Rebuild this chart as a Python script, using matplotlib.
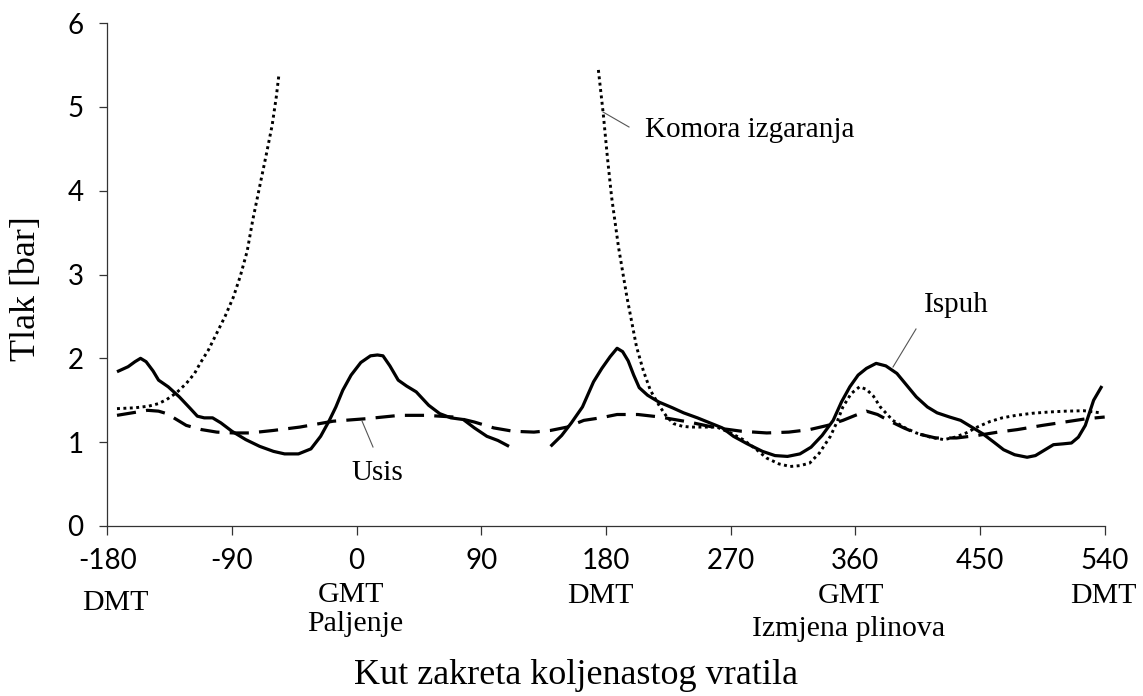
import matplotlib
matplotlib.use("Agg")
import matplotlib.pyplot as plt

W, H = 1143, 696

# ---------- data ----------
# Ispuh (solid), two pieces
ispuh1_x = [-173, -165, -160, -156, -152, -147, -143, -136, -128, -120, -115, -110, -104, -98,
            -90, -80, -70, -60, -52, -42, -33, -26, -20, -15, -10, -4, 3, 10, 15, 19, 24,
            30, 36, 43, 52, 60, 68, 77, 85, 94, 102, 110]
ispuh1_y = [1.84, 1.90, 1.96, 2.00, 1.96, 1.85, 1.74, 1.66, 1.54, 1.40, 1.31, 1.29, 1.29, 1.23,
            1.13, 1.03, 0.95, 0.89, 0.86, 0.86, 0.92, 1.07, 1.25, 1.42, 1.62, 1.80, 1.95, 2.03, 2.04, 2.03, 1.91,
            1.74, 1.67, 1.60, 1.44, 1.34, 1.29, 1.27, 1.17, 1.07, 1.02, 0.95]

ispuh2_x = [140, 148, 155, 163, 171, 177, 183, 188, 192, 196, 200, 204, 210, 218, 228, 236,
            246, 255, 264, 272, 282, 293, 302, 311, 320, 328, 336, 344, 350, 356, 362, 368,
            375, 382, 390, 397, 404, 412, 419, 428, 436, 444, 452, 460, 467, 475, 484, 490,
            496, 503, 510, 516, 521, 526, 532, 538]
ispuh2_y = [0.95, 1.08, 1.23, 1.42, 1.72, 1.88, 2.02, 2.12, 2.08, 1.97, 1.80, 1.65, 1.56, 1.48, 1.41, 1.35,
            1.29, 1.23, 1.17, 1.07, 0.98, 0.89, 0.84, 0.83, 0.86, 0.94, 1.08, 1.26, 1.48, 1.66, 1.80, 1.88,
            1.94, 1.91, 1.82, 1.68, 1.54, 1.42, 1.35, 1.30, 1.26, 1.18, 1.10, 1.00, 0.91, 0.85, 0.82, 0.84,
            0.90, 0.97, 0.98, 0.99, 1.06, 1.20, 1.50, 1.67]

# Usis (dashed)
usis_x = [-173, -162, -151, -143, -137, -130, -123, -112, -101, -89, -77, -60, -41, -17, 7, 31,
          50, 70, 85, 99, 113, 128, 140, 152, 164, 176, 188, 203, 219, 240, 260, 278, 296,
          312, 327, 340, 351, 360, 368, 376, 385, 395, 405, 418, 433, 448, 463, 477, 495,
          513, 527, 540]
usis_y = [1.32, 1.35, 1.38, 1.37, 1.34, 1.27, 1.20, 1.15, 1.12, 1.11, 1.11, 1.14, 1.18, 1.25, 1.28, 1.32,
          1.32, 1.30, 1.24, 1.17, 1.13, 1.12, 1.14, 1.18, 1.26, 1.29, 1.33, 1.33, 1.30, 1.24, 1.17, 1.13, 1.11,
          1.12, 1.15, 1.20, 1.26, 1.32, 1.37, 1.33, 1.25, 1.17, 1.10, 1.05, 1.05, 1.08, 1.12, 1.15, 1.20,
          1.245, 1.28, 1.30]

# Komora izgaranja (dotted), two pieces (goes off the top)
komora1_x = [-173, -160, -150, -143, -137, -130, -123, -117, -113, -107, -101, -95, -89, -84,
             -79, -75, -70, -65, -61, -58, -56]
komora1_y = [1.40, 1.41, 1.43, 1.46, 1.51, 1.59, 1.70, 1.82, 1.94, 2.10, 2.30, 2.50, 2.73, 2.98,
             3.28, 3.65, 4.05, 4.45, 4.78, 5.12, 5.40]

komora2_x = [174.5, 178, 181, 184, 189, 195, 202, 207, 212, 219, 224, 229, 235, 241, 250, 260,
             270, 279, 288, 296, 305, 313, 320, 327, 334, 342, 347, 351, 357, 363, 368, 373,
             378, 387, 396, 404, 414, 424, 432, 440, 448, 457, 466, 476, 488, 500, 512, 525, 537]
komora2_y = [5.44, 4.92, 4.40, 3.93, 3.33, 2.74, 2.14, 1.85, 1.62, 1.42, 1.30, 1.22, 1.19, 1.18, 1.18, 1.18,
             1.11, 1.03, 0.92, 0.81, 0.74, 0.71, 0.72, 0.75, 0.87, 1.07, 1.25, 1.42, 1.58, 1.66, 1.63, 1.55,
             1.42, 1.26, 1.17, 1.11, 1.06, 1.03, 1.06, 1.11, 1.18, 1.245, 1.29, 1.32, 1.345, 1.36, 1.37, 1.375, 1.35]

x_ticks = [-180, -90, 0, 90, 180, 270, 360, 450, 540]
y_ticks = [0, 1, 2, 3, 4, 5, 6]

SERIF = "Liberation Serif"
SANS = "Lato"


def px(x, y):
    """pixel position in the 1143x696 picture -> figure fraction"""
    return x / W, 1 - y / H


fig = plt.figure(figsize=(W / 100, H / 100), dpi=100)
left, bottom = px(107.3, 526)
ax = fig.add_axes([left, bottom, (1104.7 - 107.3) / W, (526 - 23) / H])

# ---------- curves ----------
LW = 2.3
for xs, ys in [(ispuh1_x, ispuh1_y), (ispuh2_x, ispuh2_y)]:
    ax.plot(xs, ys, color="black", lw=LW, solid_capstyle="butt")
ax.plot(usis_x, usis_y, color="black", lw=LW, linestyle=(0, (6, 3.2)))
for xs, ys in [(komora1_x, komora1_y), (komora2_x, komora2_y)]:
    ax.plot(xs, ys, color="black", lw=2.1, linestyle=(0, (1, 1.2)))

ax.set_xlim(-180, 540)
ax.set_ylim(0, 6)
ax.set_xticks(x_ticks)
ax.set_yticks(y_ticks)
ax.set_xticklabels([str(v) for v in x_ticks], fontfamily=SANS, fontsize=20)
ax.set_yticklabels([str(v) for v in y_ticks], fontfamily=SANS, fontsize=20)
ax.tick_params(axis="x", direction="out", length=6.5, width=0.9, color="#333333", pad=9)
ax.tick_params(axis="y", direction="out", length=6, width=0.9, color="#333333", pad=11)
for side in ["top", "right"]:
    ax.spines[side].set_visible(False)
for side in ["left", "bottom"]:
    ax.spines[side].set_linewidth(0.9)
    ax.spines[side].set_color("#333333")

# ---------- curve labels with leader lines ----------
def leader(x0, y0, x1, y1):
    a, b = px(x0, y0)
    c, d = px(x1, y1)
    fig.add_artist(plt.Line2D([a, c], [b, d], color="#555555", lw=0.8))

fig.text(*px(645, 136.7), "Komora izgaranja", fontfamily=SERIF, fontsize=21, ha="left", va="baseline")
leader(603, 112, 629, 127)
fig.text(*px(956, 311.7), "Ispuh", fontfamily=SERIF, fontsize=21, ha="center", va="baseline")
leader(916, 329, 893, 367)
fig.text(*px(377.5, 480), "Usis", fontfamily=SERIF, fontsize=21, ha="center", va="baseline")
leader(362, 421, 373, 447)

# ---------- dead-centre / phase labels under the axis ----------
fs = 21.5
fig.text(*px(115.5, 610), "DMT", fontfamily=SERIF, fontsize=fs, ha="center", va="baseline")
fig.text(*px(351, 602.5), "GMT", fontfamily=SERIF, fontsize=fs, ha="center", va="baseline")
fig.text(*px(355, 631), "Paljenje", fontfamily=SERIF, fontsize=fs, ha="center", va="baseline")
fig.text(*px(600, 603), "DMT", fontfamily=SERIF, fontsize=fs, ha="center", va="baseline")
fig.text(*px(850.5, 603), "GMT", fontfamily=SERIF, fontsize=fs, ha="center", va="baseline")
fig.text(*px(848.5, 636), "Izmjena plinova", fontfamily=SERIF, fontsize=fs, ha="center", va="baseline")
fig.text(*px(1103, 603), "DMT", fontfamily=SERIF, fontsize=fs, ha="center", va="baseline")

fig.text(*px(576, 684), "Kut zakreta koljenastog vratila", fontfamily=SERIF, fontsize=26,
         ha="center", va="baseline")
fig.text(*px(27, 289), "Tlak [bar]", fontfamily=SERIF, fontsize=26, rotation=90,
         ha="center", va="center")

fig.savefig("out.png", dpi=100)
